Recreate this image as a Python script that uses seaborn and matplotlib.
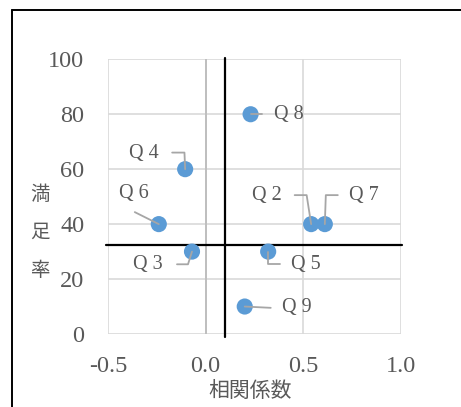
import numpy as np
import pandas as pd
import seaborn as sns
import matplotlib
matplotlib.use("Agg")
import matplotlib.pyplot as plt
from matplotlib.lines import Line2D
from matplotlib.transforms import IdentityTransform

# Question-level data: correlation coefficient vs. satisfaction rate
questions = ["Q 2", "Q 3", "Q 4", "Q 5", "Q 6", "Q 7", "Q 8", "Q 9"]
correlation = [0.54, -0.07, -0.105, 0.32, -0.24, 0.61, 0.23, 0.20]
satisfaction = [40, 30, 60, 30, 40, 40, 80, 10]

# Reference lines splitting the quadrants
corr_split = 0.10
satis_split = 32.5

x_ticks = [-0.5, 0.0, 0.5, 1.0]
x_ticklabels = ["-0.5", "0.0", "0.5", "1.0"]
y_ticks = [0, 20, 40, 60, 80, 100]
x_title = "相関係数"
y_title = "満足率"

# Label placement (pixels, relative to each point) and leader-line vertices
label_offset = {
    "Q 2": (-44, 29), "Q 3": (-44, -13), "Q 4": (-41, 16), "Q 5": (38, -13),
    "Q 6": (-25, 31), "Q 7": (39, 29), "Q 8": (38, 0), "Q 9": (52, -1),
}
leader_path = {
    "Q 2": [(-16.5, 29), (-4.5, 29), (0, 0)],
    "Q 3": [(-15, -12.7), (-4, -12.7), (0, 0)],
    "Q 4": [(-13, 16.6), (-0.7, 16.6), (0, 0)],
    "Q 5": [(0, 0), (0, -12.7), (12, -12.7)],
    "Q 6": [(-24, 12), (0, 0)],
    "Q 7": [(13, 29), (1, 29), (0, 0)],
    "Q 8": [(0, 0), (11, 0)],
    "Q 9": [(0, 0), (26, -1.3)],
}

df = pd.DataFrame({"question": questions, "corr": correlation, "satis": satisfaction})

sns.set_style("white")
plt.rcParams["font.family"] = ["Liberation Serif", "Noto Sans CJK JP"]

TEXT = "#595959"
GRID = "#d9d9d9"
DOT = "#5b9bd5"
LEADER = "#a6a6a6"

W, H = 461, 407
fig = plt.figure(figsize=(W / 100, H / 100), dpi=100)
ax = fig.add_axes([108 / W, 1 - 334 / H, (401 - 108) / W, (334 - 59.3) / H])

sns.scatterplot(data=df, x="corr", y="satis", ax=ax, color=DOT, s=135,
                edgecolor="none", zorder=5, legend=False)

ax.set_xlim(-0.5, 1.0)
ax.set_ylim(0, 100)
ax.set_xticks(x_ticks)
ax.set_xticklabels(x_ticklabels)
ax.set_yticks(y_ticks)
ax.grid(True, color=GRID, linewidth=1.2)
ax.set_axisbelow(True)
for side in ["top", "right", "bottom", "left"]:
    ax.spines[side].set_visible(False)
ax.axvline(0, color="#bfbfbf", linewidth=1.4, zorder=1)
ax.tick_params(length=0, labelsize=17.5, labelcolor=TEXT)
ax.tick_params(axis="y", pad=17)
ax.tick_params(axis="x", pad=16)
ax.set_xlabel("")
ax.set_ylabel("")

# Quadrant divider lines
ax.axhline(satis_split, color="black", linewidth=1.6, zorder=3, xmin=-0.007, xmax=1.003, clip_on=False)
ax.axvline(corr_split, color="black", linewidth=1.6, zorder=3, ymin=-0.012, ymax=1.003, clip_on=False)

# Data labels with leader lines
fig.canvas.draw()
for q, cx, cy in zip(questions, correlation, satisfaction):
    px, py = ax.transData.transform((cx, cy))
    pts = leader_path[q]
    xs = [px + dx for dx, dy in pts]
    ys = [py + dy for dx, dy in pts]
    fig.add_artist(Line2D(xs, ys, transform=IdentityTransform(), color=LEADER,
                          linewidth=1.3, zorder=2))
    ax.annotate(q, (cx, cy), xytext=label_offset[q], textcoords="offset pixels",
                ha="center", va="center", fontsize=14.5, color=TEXT, zorder=6)

# Axis titles
fig.text(250 / W, 1 - 391 / H, x_title, ha="center", va="center",
         fontsize=15, color=TEXT, family=["Noto Sans CJK JP"])
for i, ch in enumerate(y_title):
    fig.text(40 / W, 1 - (195 + 37.5 * i) / H, ch, ha="center", va="center",
             fontsize=14, color=TEXT, family=["Noto Sans CJK JP"])

# Chart frame
fig.add_artist(Line2D([12 / W, 12 / W], [-0.05, 1 - 10 / H], color="black",
                      linewidth=1.4, transform=fig.transFigure))
fig.add_artist(Line2D([12 / W, 1.05], [1 - 10 / H, 1 - 10 / H], color="black",
                      linewidth=1.4, transform=fig.transFigure))

fig.savefig("out.png", dpi=100)
